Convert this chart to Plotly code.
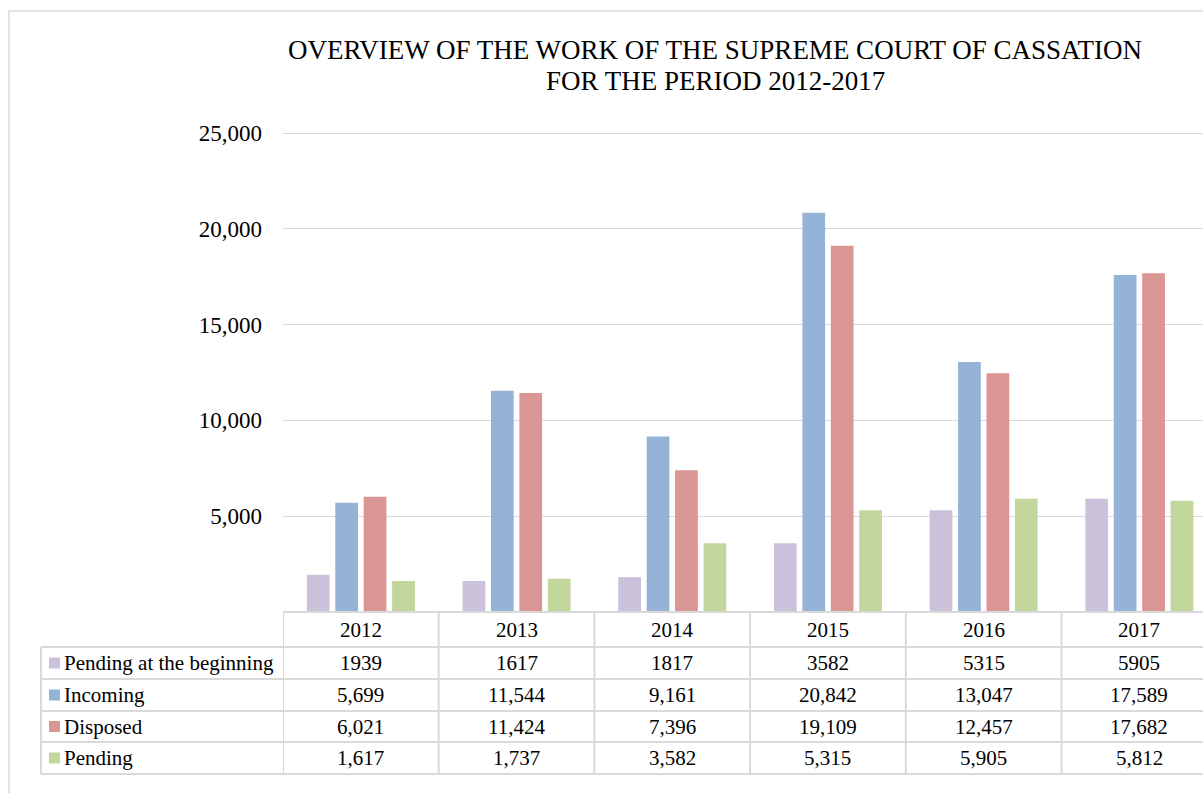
import plotly.graph_objects as go

years = ["2012", "2013", "2014", "2015", "2016", "2017"]
series_names = ["Pending at the beginning", "Incoming", "Disposed", "Pending"]
pending_begin = [1939, 1617, 1817, 3582, 5315, 5905]
incoming = [5699, 11544, 9161, 20842, 13047, 17589]
disposed = [6021, 11424, 7396, 19109, 12457, 17682]
pending = [1617, 1737, 3582, 5315, 5905, 5812]
# table display text (first row printed without thousands separator)
table_fmt = ["{:d}", "{:,d}", "{:,d}", "{:,d}"]
colors = ["#CCC1DA", "#95B3D7", "#D99694", "#C3D69B"]
y_ticks = [5000, 10000, 15000, 20000, 25000]
title_lines = ["OVERVIEW OF THE WORK OF THE SUPREME COURT OF CASSATION", "FOR THE PERIOD 2012-2017"]

W, H = 1203, 793
FONT = "Liberation Serif, Times New Roman, serif"
GRID = "#D9D9D9"


def px(x):
    return x / W


def py(y):
    return 1 - y / H


all_series = [pending_begin, incoming, disposed, pending]
xs = list(range(len(years)))

fig = go.Figure()
for name, vals, col in zip(series_names, all_series, colors):
    fig.add_trace(go.Bar(x=xs, y=vals, name=name, marker=dict(color=col, line=dict(width=0)),
                         showlegend=False, hoverinfo="y+name"))

plot_left, plot_top, plot_bottom = 283, 133, 612
cat_w = 155.7
right_edge_cat = (W - plot_left) / cat_w - 0.5
y_max = 25000
y_pad = 100  # small headroom so the top gridline is drawn
domain_top_px = plot_top - y_pad * (plot_bottom - plot_top) / y_max

shapes = []
annotations = []
# Chart border
shapes.append(dict(type="rect", xref="paper", yref="paper", x0=px(9), x1=px(1215), y0=py(11), y1=py(805),
                   line=dict(color=GRID, width=1.5), fillcolor="rgba(0,0,0,0)", layer="below"))

# table geometry
row_y = [612, 647, 679, 711, 742, 774]
legend_left = 41
shapes.append(dict(type="line", xref="paper", yref="paper", x0=px(plot_left), x1=1, y0=py(row_y[0]), y1=py(row_y[0]),
                   line=dict(color=GRID, width=2)))
for yv in row_y[1:]:
    shapes.append(dict(type="line", xref="paper", yref="paper", x0=px(legend_left), x1=1, y0=py(yv), y1=py(yv),
                       line=dict(color=GRID, width=2)))
shapes.append(dict(type="line", xref="paper", yref="paper", x0=px(legend_left), x1=px(legend_left),
                   y0=py(row_y[1]), y1=py(row_y[-1]), line=dict(color=GRID, width=2)))
for i in range(len(years)):
    shapes.append(dict(type="line", xref="x", yref="paper", x0=i - 0.5, x1=i - 0.5,
                       y0=py(row_y[0]), y1=py(row_y[-1]), line=dict(color=GRID, width=2)))

TFS = 21
for i, yr in enumerate(years):
    annotations.append(dict(x=i, y=py((row_y[0] + row_y[1]) / 2), xref="x", yref="paper", text=yr,
                            xanchor="center", yanchor="middle",
                            showarrow=False, font=dict(family=FONT, size=TFS, color="#000")))
for r, (name, vals, col, fmt) in enumerate(zip(series_names, all_series, colors, table_fmt)):
    yc = (row_y[r + 1] + row_y[r + 2]) / 2
    shapes.append(dict(type="rect", xref="paper", yref="paper", x0=px(49), x1=px(60),
                       y0=py(yc + 5.5), y1=py(yc - 5.5), line=dict(width=0), fillcolor=col))
    annotations.append(dict(x=px(62), y=py(yc), xref="paper", yref="paper", text=name,
                            xanchor="left", yanchor="middle",
                            showarrow=False, font=dict(family=FONT, size=TFS, color="#000")))
    for i, v in enumerate(vals):
        annotations.append(dict(x=i, y=py(yc), xref="x", yref="paper", text=fmt.format(v),
                                xanchor="center", yanchor="middle",
                                showarrow=False, font=dict(family=FONT, size=TFS, color="#000")))

# title (two lines, Excel-like tight spacing)
for line, yc in zip(title_lines, [50, 81]):
    annotations.append(dict(x=px(715), y=py(yc), xref="paper", yref="paper", text=line,
                            xanchor="center", yanchor="middle", showarrow=False,
                            font=dict(family=FONT, size=27, color="#000")))

fig.update_layout(
    width=W, height=H,
    margin=dict(l=0, r=0, t=0, b=0, pad=0),
    paper_bgcolor="white", plot_bgcolor="white",
    barmode="group", bargap=0.27, bargroupgap=0.2,
    showlegend=False,
    xaxis=dict(domain=[px(plot_left), 1], range=[-0.5, right_edge_cat], showticklabels=False,
               showgrid=False, zeroline=False, showline=False, fixedrange=True, automargin=False),
    yaxis=dict(domain=[py(plot_bottom), py(domain_top_px)], range=[0, y_max + y_pad], tickvals=y_ticks,
               tickformat=",d", showgrid=True, gridcolor=GRID, gridwidth=1, zeroline=False,
               showline=False, ticks="", ticklabelstandoff=20, automargin=False, fixedrange=True,
               tickfont=dict(family=FONT, size=23, color="#000")),
    shapes=shapes, annotations=annotations,
    font=dict(family=FONT),
)

fig.write_html("out.html", config={"displayModeBar": False},
               post_script="document.body.style.margin='0';document.body.style.overflow='hidden';")
